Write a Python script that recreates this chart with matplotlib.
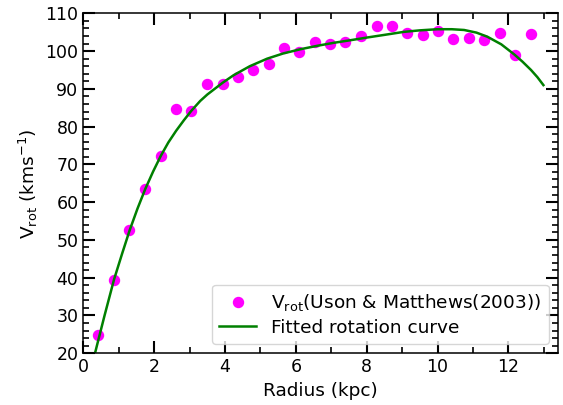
import numpy as np
import matplotlib
matplotlib.use("Agg")
import matplotlib.pyplot as plt
from matplotlib.ticker import MultipleLocator

# observed rotation velocities (Uson & Matthews 2003)
radius = [0.42, 0.87, 1.29, 1.75, 2.18, 2.62, 3.05, 3.49, 3.93, 4.36, 4.79, 5.23,
          5.66, 6.10, 6.53, 6.97, 7.40, 7.84, 8.28, 8.71, 9.15, 9.58, 10.02, 10.45,
          10.89, 11.32, 11.76, 12.19, 12.63]
v_rot = [24.8, 39.5, 52.6, 63.6, 72.2, 84.8, 84.1, 91.3, 91.2, 93.1, 94.9, 96.7,
         100.7, 99.8, 102.5, 101.9, 102.5, 104.0, 106.6, 106.7, 104.9, 104.2, 105.4, 103.2,
         103.4, 103.0, 104.9, 98.9, 104.6]

# fitted curve
fit_r = [0.33, 0.6, 0.87, 1.1, 1.31, 1.53, 1.75, 1.97, 2.19, 2.4, 2.62, 2.84, 3.05,
         3.3, 3.5, 3.93, 4.24, 4.7, 5.19, 5.65, 6.13, 6.6, 7.07, 7.55, 8.01, 8.5,
         9.05, 9.5, 10.0, 10.4, 10.75, 11.1, 11.41, 11.8, 12.17, 12.4, 12.64, 12.82, 12.99]
fit_v = [20.0, 30.0, 39.6, 46.5, 52.6, 58.3, 63.5, 68.1, 72.3, 75.8, 78.9, 81.7, 84.2,
         86.8, 88.5, 91.6, 93.6, 96.0, 98.0, 99.4, 100.5, 101.4, 102.2, 102.9, 103.6, 104.3,
         105.1, 105.5, 105.8, 105.8, 105.6, 104.9, 103.8, 101.8, 99.1, 97.2, 95.0, 93.1, 91.0]

fig = plt.figure(figsize=(5.63, 4.05), dpi=100)
ax = fig.add_axes([0.148, 0.128, 0.843, 0.839])

ax.plot(radius, v_rot, 'o', color='magenta', markersize=7.2,
        label=r'V$_{\mathrm{rot}}$(Uson & Matthews(2003))')
ax.plot(fit_r, fit_v, '-', color='green', linewidth=1.8, label='Fitted rotation curve')

ax.set_xlim(0, 13.4)
ax.set_ylim(20, 110)
ax.xaxis.set_major_locator(MultipleLocator(2))
ax.xaxis.set_minor_locator(MultipleLocator(1))
ax.yaxis.set_major_locator(MultipleLocator(10))
ax.yaxis.set_minor_locator(MultipleLocator(2))
ax.tick_params(which='both', direction='in', top=True, right=True, labelsize=12.5)
ax.tick_params(which='major', length=8.5, width=1.5)
ax.tick_params(which='minor', length=4.3, width=1.2)
for s in ax.spines.values():
    s.set_linewidth(1.1)

ax.set_xlabel('Radius (kpc)', fontsize=13.3, labelpad=4)
ax.set_ylabel(r'V$_{\mathrm{rot}}$ (kms$^{-1}$)', fontsize=13.3)
ax.legend(loc='lower right', fontsize=13.3, labelspacing=0.3)

fig.savefig('out.png', dpi=100)
